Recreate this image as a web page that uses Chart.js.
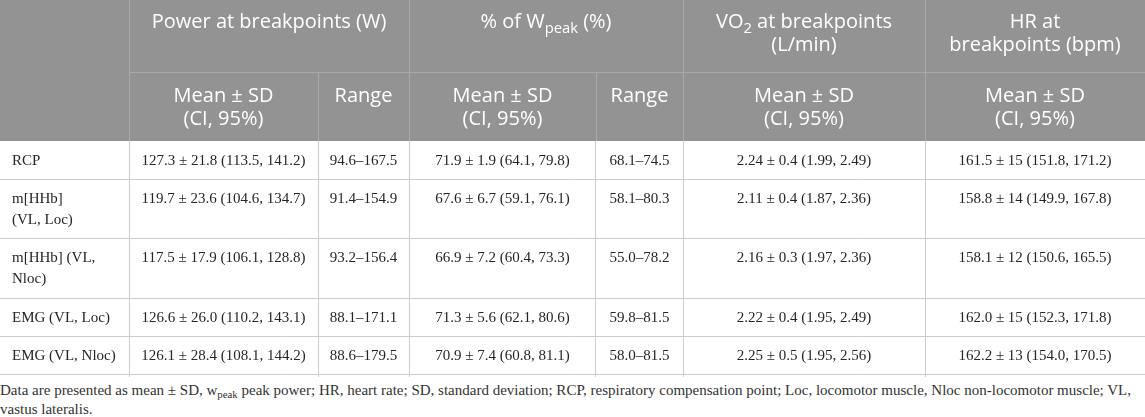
<!DOCTYPE html>
<html lang="en">

<head>
	<meta charset="utf-8">
	<script src="https://cdn.jsdelivr.net/npm/chart.js"></script>
	<title>Breakpoints table</title>
	<style>
		body { margin: 0; background: #fff; }
		#note { font: 15px "Liberation Serif", serif; color: #333; line-height: 19px; padding-top: 4px; width: 1145px; }
		#note sub { font-size: 0.72em; line-height: 0; vertical-align: -0.3em; }
	</style>
</head>

<body>
	<canvas id="myChart" width="1145" height="377"></canvas>
	<div id="note"></div>

	<script>
		// table values
		const rowLabels = [["RCP"], ["m[HHb]", "(VL, Loc)"], ["m[HHb] (VL,", "Nloc)"], ["EMG (VL, Loc)"], ["EMG (VL, Nloc)"]];

		const powerMean = [127.3, 119.7, 117.5, 126.6, 126.1];
		const powerSD = [21.8, 23.6, 17.9, 26.0, 28.4];
		const powerCILow = [113.5, 104.6, 106.1, 110.2, 108.1];
		const powerCIHigh = [141.2, 134.7, 128.8, 143.1, 144.2];
		const powerRangeLow = [94.6, 91.4, 93.2, 88.1, 88.6];
		const powerRangeHigh = [167.5, 154.9, 156.4, 171.1, 179.5];

		const pctMean = [71.9, 67.6, 66.9, 71.3, 70.9];
		const pctSD = [1.9, 6.7, 7.2, 5.6, 7.4];
		const pctCILow = [64.1, 59.1, 60.4, 62.1, 60.8];
		const pctCIHigh = [79.8, 76.1, 73.3, 80.6, 81.1];
		const pctRangeLow = [68.1, 58.1, 55.0, 59.8, 58.0];
		const pctRangeHigh = [74.5, 80.3, 78.2, 81.5, 81.5];

		const vo2Mean = [2.24, 2.11, 2.16, 2.22, 2.25];
		const vo2SD = [0.4, 0.4, 0.3, 0.4, 0.5];
		const vo2CILow = [1.99, 1.87, 1.97, 1.95, 1.95];
		const vo2CIHigh = [2.49, 2.36, 2.36, 2.49, 2.56];

		const hrMean = [161.5, 158.8, 158.1, 162.0, 162.2];
		const hrSD = [15, 14, 12, 15, 13];
		const hrCILow = [151.8, 149.9, 150.6, 152.3, 154.0];
		const hrCIHigh = [171.2, 167.8, 165.5, 171.8, 170.5];

		// header texts, _{..} = subscript
		const groupHeaders = [
			{ from: 1, to: 3, lines: ["Power at breakpoints (W)"] },
			{ from: 3, to: 5, lines: ["% of W_{peak} (%)"] },
			{ from: 5, to: 6, lines: ["VO_{2} at breakpoints", "(L/min)"] },
			{ from: 6, to: 7, lines: ["HR at", "breakpoints (bpm)"] }
		];
		const subHeaders = [["Mean ± SD", "(CI, 95%)"], ["Range"], ["Mean ± SD", "(CI, 95%)"], ["Range"], ["Mean ± SD", "(CI, 95%)"], ["Mean ± SD", "(CI, 95%)"]];

		const footnote = 'Data are presented as mean ± SD, w<sub>peak</sub> peak power; HR, heart rate; SD, standard deviation; RCP, respiratory compensation point; Loc, locomotor muscle, Nloc non-locomotor muscle; VL, vastus lateralis.';

		// layout
		const colWidths = [129, 189, 91, 187, 87, 242, 220];
		const headHeights = [72, 69];
		const rowHeights = [38, 59, 60, 38, 38];

		const cum = arr => arr.reduce((a, v) => { a.push(a[a.length - 1] + v); return a; }, [0]);
		const xEdges = cum(colWidths);
		const yEdges = cum(headHeights.concat(rowHeights));
		const headBottom = yEdges[2];
		const totalW = xEdges[xEdges.length - 1];
		const canvasH = 377;

		const f = (v, d) => v.toFixed(d);
		const meanCell = (m, s, lo, hi, dm, ds, dc) => i => f(m[i], dm) + ' ± ' + f(s[i], ds) + ' (' + f(lo[i], dc) + ', ' + f(hi[i], dc) + ')';
		const rangeCell = (lo, hi) => i => f(lo[i], 1) + '–' + f(hi[i], 1);
		const columns = [
			meanCell(powerMean, powerSD, powerCILow, powerCIHigh, 1, 1, 1),
			rangeCell(powerRangeLow, powerRangeHigh),
			meanCell(pctMean, pctSD, pctCILow, pctCIHigh, 1, 1, 1),
			rangeCell(pctRangeLow, pctRangeHigh),
			meanCell(vo2Mean, vo2SD, vo2CILow, vo2CIHigh, 2, 1, 2),
			meanCell(hrMean, hrSD, hrCILow, hrCIHigh, 1, 0, 1)
		];

		const headFont = '"Open Sans", sans-serif';
		const bodyFont = '"Liberation Serif", serif';

		function richText(ctx, str, cx, cy, size) {
			const parts = [];
			str.split(/(_\{[^}]*\})/).forEach(p => {
				if (!p) return;
				if (p.startsWith('_{')) parts.push({ t: p.slice(2, -1), sub: true });
				else parts.push({ t: p, sub: false });
			});
			let w = 0;
			parts.forEach(p => {
				ctx.font = (p.sub ? size * 0.74 : size) + 'px ' + headFont;
				p.w = ctx.measureText(p.t).width;
				w += p.w;
			});
			let x = cx - w / 2;
			parts.forEach(p => {
				ctx.font = (p.sub ? size * 0.74 : size) + 'px ' + headFont;
				ctx.fillText(p.t, x, p.sub ? cy + size * 0.3 : cy);
				x += p.w;
			});
		}

		const tablePlugin = {
			id: 'tableCells',
			afterDraw(chart) {
				const ctx = chart.ctx;
				const sx = chart.scales.x, sy = chart.scales.y;
				const px = v => sx.getPixelForValue(v);
				const py = v => sy.getPixelForValue(v);
				ctx.save();

				// header band
				ctx.fillStyle = '#939393';
				ctx.fillRect(px(0), py(0), px(totalW) - px(0), py(headBottom) - py(0));
				ctx.strokeStyle = '#a9a9a9';
				ctx.lineWidth = 1;
				const vline = (x, y0, y1) => { ctx.beginPath(); ctx.moveTo(Math.round(px(x)) + 0.5, py(y0)); ctx.lineTo(Math.round(px(x)) + 0.5, py(y1)); ctx.stroke(); };
				[1, 3, 5, 6].forEach(c => vline(xEdges[c], 0, yEdges[1]));
				[1, 2, 3, 4, 5, 6].forEach(c => vline(xEdges[c], yEdges[1], headBottom));
				ctx.beginPath();
				ctx.moveTo(px(xEdges[1]), Math.round(py(yEdges[1])) + 0.5);
				ctx.lineTo(px(totalW), Math.round(py(yEdges[1])) + 0.5);
				ctx.stroke();

				// header text
				ctx.fillStyle = '#ffffff';
				ctx.textBaseline = 'middle';
				ctx.textAlign = 'left';
				const hLine = 23, hPad = 11, hSize = 20;
				groupHeaders.forEach(g => {
					const cx = (px(xEdges[g.from]) + px(xEdges[g.to])) / 2;
					g.lines.forEach((l, k) => richText(ctx, l, cx, py(yEdges[0]) + hPad + hLine / 2 + k * hLine, hSize));
				});
				subHeaders.forEach((lines, j) => {
					const cx = (px(xEdges[j + 1]) + px(xEdges[j + 2])) / 2;
					lines.forEach((l, k) => richText(ctx, l, cx, py(yEdges[1]) + hPad + 2 + hLine / 2 + k * hLine, hSize));
				});

				// body text, vertically centred in each row
				ctx.fillStyle = '#262626';
				ctx.font = '15px ' + bodyFont;
				const bLine = 21;
				rowLabels.forEach((lab, i) => {
					const top = py(yEdges[i + 2]), bottom = py(yEdges[i + 3]);
					const mid = (top + bottom) / 2 + 1;
					const first = mid - (lab.length - 1) * bLine / 2;
					ctx.textAlign = 'left';
					lab.forEach((l, k) => ctx.fillText(l, px(0) + 12, first + k * bLine));
					ctx.textAlign = 'center';
					columns.forEach((cell, j) => {
						const cx = (px(xEdges[j + 1]) + px(xEdges[j + 2])) / 2;
						ctx.fillText(cell(i), cx, first);
					});
				});
				ctx.restore();
			}
		};

		const myChart = new Chart(document.getElementById('myChart'), {
			type: 'scatter',
			data: { datasets: [] },
			options: {
				responsive: false,
				animation: false,
				layout: { padding: 0, autoPadding: false },
				plugins: { legend: { display: false }, tooltip: { enabled: false } },
				scales: {
					x: {
						type: 'linear', min: 0, max: totalW, offset: false,
						ticks: { display: false },
						grid: { color: '#cccccc', drawTicks: false, lineWidth: 1, offset: false },
						border: { display: false },
						afterBuildTicks: s => { s.ticks = xEdges.slice(1, -1).map(v => ({ value: v })); }
					},
					y: {
						type: 'linear', min: 0, max: canvasH, reverse: true, offset: false,
						ticks: { display: false },
						grid: { color: '#cccccc', drawTicks: false, lineWidth: 1, offset: false },
						border: { display: false },
						afterBuildTicks: s => { s.ticks = yEdges.slice(3).map(v => ({ value: v })); }
					}
				}
			},
			plugins: [tablePlugin]
		});

		document.getElementById('note').innerHTML = footnote;
	</script>
</body>
</html>
